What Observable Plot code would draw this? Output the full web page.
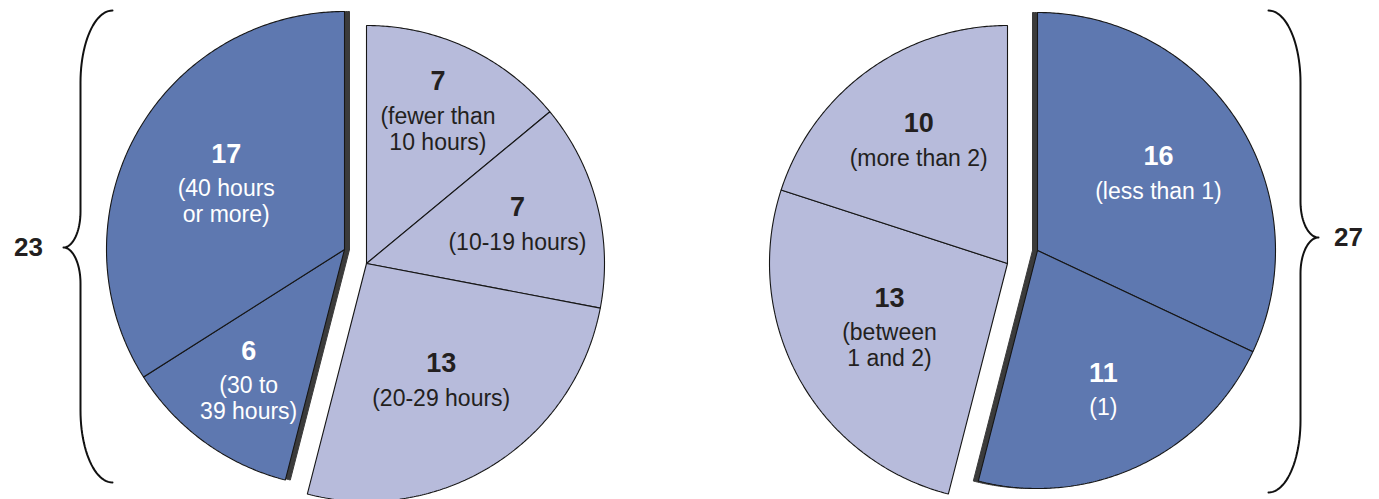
<!DOCTYPE html>
<html>
<head>
<meta charset="utf-8">
<script src="https://cdn.jsdelivr.net/npm/d3@7"></script>
<script src="https://cdn.jsdelivr.net/npm/@observablehq/plot@0.6"></script>
<style>
  html, body { margin: 0; padding: 0; background: #fff; }
  #chart svg { display: block; }
</style>
</head>
<body>
<div id="chart"></div>
<script>
// Weekly hours (left pie) and a second breakdown (right pie), 50 respondents each.
// Slices run clockwise from twelve o'clock.
const leftValues = [7, 7, 13, 6, 17];
const leftNotes = ["(fewer than\n10 hours)", "(10-19 hours)", "(20-29 hours)", "(30 to\n39 hours)", "(40 hours\nor more)"];
const leftTone = ["light", "light", "light", "dark", "dark"];

const rightValues = [16, 11, 13, 10];
const rightNotes = ["(less than 1)", "(1)", "(between\n1 and 2)", "(more than 2)"];
const rightTone = ["dark", "dark", "light", "light"];

// Layout: how far out along each slice's bisector its label sits (fraction of radius)
const leftLabelDepth = [0.705, 0.655, 0.586, 0.685, 0.567];
const rightLabelDepth = [0.602, 0.650, 0.566, 0.635];

const W = 1379, H = 499, R = 238;
const colors = {dark: "#5e78b0", light: "#b7bbdb", shadow: "#3b3b3b", ink: "#231f20"};

const pies = [
  {values: leftValues, notes: leftNotes, tone: leftTone, depth: leftLabelDepth,
   centers: {dark: [344, 249], light: [366, 263]}, shadowShift: 5,
   brace: {xEnd: 112, xSpine: 80, xTip: 63, yTop: 10, yTip: 247, yBottom: 482, capH: 72, tipH: 36},
   braceLabel: {x: 28}},
  {values: rightValues, notes: rightNotes, tone: rightTone, depth: rightLabelDepth,
   centers: {dark: [1037, 250], light: [1007, 263]}, shadowShift: -5,
   brace: {xEnd: 1268, xSpine: 1300, xTip: 1318, yTop: 10, yTip: 237, yBottom: 492, capH: 72, tipH: 36},
   braceLabel: {x: 1348}}
];

const rad = (deg) => deg * Math.PI / 180;
function arcPolygon(id, cx, cy, a0, a1) {
  const pts = [{id, x: cx, y: cy}];
  const n = Math.max(2, Math.ceil((a1 - a0) / 0.5));
  for (let i = 0; i <= n; ++i) {
    const a = rad(a0 + (a1 - a0) * i / n);
    pts.push({id, x: cx + R * Math.sin(a), y: cy - R * Math.cos(a)});
  }
  pts.push({id, x: cx, y: cy});
  return pts;
}

function bracePath(id, b) {
  const pts = [];
  const d1 = b.xSpine - b.xEnd, d2 = b.xTip - b.xSpine, steps = 24;
  for (let i = 0; i <= steps; ++i) { const t = rad(90 * i / steps);
    pts.push({id, x: b.xEnd + d1 * Math.sin(t), y: b.yTop + b.capH - b.capH * Math.cos(t)}); }
  for (let i = 0; i <= steps; ++i) { const t = rad(90 * i / steps);
    pts.push({id, x: b.xTip - d2 * Math.cos(t), y: b.yTip - b.tipH + b.tipH * Math.sin(t)}); }
  for (let i = steps; i >= 0; --i) { const t = rad(90 * i / steps);
    pts.push({id, x: b.xTip - d2 * Math.cos(t), y: b.yTip + b.tipH - b.tipH * Math.sin(t)}); }
  for (let i = steps; i >= 0; --i) { const t = rad(90 * i / steps);
    pts.push({id, x: b.xEnd + d1 * Math.sin(t), y: b.yBottom - b.capH + b.capH * Math.cos(t)}); }
  return pts;
}

const slicePts = [], shadowPts = [], numberRows = [], noteRows = [], bracePts = [], braceLabels = [];

pies.forEach((pie, p) => {
  const total = d3.sum(pie.values);
  let acc = 0;
  const darkSpan = [Infinity, -Infinity];
  pie.values.forEach((v, i) => {
    const a0 = acc / total * 360, a1 = (acc + v) / total * 360;
    acc += v;
    const tone = pie.tone[i];
    const [cx, cy] = pie.centers[tone];
    const id = `p${p}s${i}`;
    slicePts.push(...arcPolygon(id, cx, cy, a0, a1).map(d => ({...d, fill: colors[tone]})));
    if (tone === "dark") { darkSpan[0] = Math.min(darkSpan[0], a0); darkSpan[1] = Math.max(darkSpan[1], a1); }
    // label block placed along the bisector
    const mid = rad((a0 + a1) / 2), r = R * pie.depth[i];
    const px = cx + r * Math.sin(mid), py = cy - r * Math.cos(mid);
    const lines = pie.notes[i].split("\n");
    const numGap = 35, lineGap = 26;
    const y0 = py - (numGap + lineGap * (lines.length - 1)) / 2;
    const ink = tone === "dark" ? "#ffffff" : colors.ink;
    numberRows.push({x: px, y: y0, text: String(v), ink});
    lines.forEach((t, j) => noteRows.push({x: px, y: y0 + numGap + j * lineGap, text: t, ink}));
  });
  // extruded edge behind the dark half
  const [dx, dy] = pie.centers.dark;
  shadowPts.push(...arcPolygon(`sh${p}`, dx + pie.shadowShift, dy, darkSpan[0], darkSpan[1]));
  // brace around the dark half with its total
  bracePts.push(...bracePath(`b${p}`, pie.brace));
  const darkTotal = d3.sum(pie.values.filter((v, i) => pie.tone[i] === "dark"));
  braceLabels.push({x: pie.braceLabel.x, y: pie.brace.yTip, text: String(darkTotal)});
});

const chart = Plot.plot({
  width: W, height: H, margin: 0,
  x: {domain: [0, W], range: [0, W], axis: null},
  y: {domain: [0, H], range: [0, H], axis: null},
  color: {type: "identity"},
  style: {fontFamily: "'Liberation Sans', Arial, sans-serif", background: "#fff"},
  marks: [
    Plot.line(shadowPts, {x: "x", y: "y", z: "id", fill: colors.shadow, stroke: colors.shadow, strokeWidth: 1}),
    Plot.line(slicePts, {x: "x", y: "y", z: "id", fill: "fill", stroke: "#161616", strokeWidth: 1.1, strokeLinejoin: "miter"}),
    Plot.text(numberRows, {x: "x", y: "y", text: "text", fill: "ink", fontSize: 27, fontWeight: "bold"}),
    Plot.text(noteRows, {x: "x", y: "y", text: "text", fill: "ink", fontSize: 23}),
    Plot.line(bracePts, {x: "x", y: "y", z: "id", stroke: "#111", strokeWidth: 2, fill: "none"}),
    Plot.text(braceLabels, {x: "x", y: "y", text: "text", fill: colors.ink, fontSize: 26, fontWeight: "bold"})
  ]
});
document.getElementById("chart").appendChild(chart);
</script>
</body>
</html>
